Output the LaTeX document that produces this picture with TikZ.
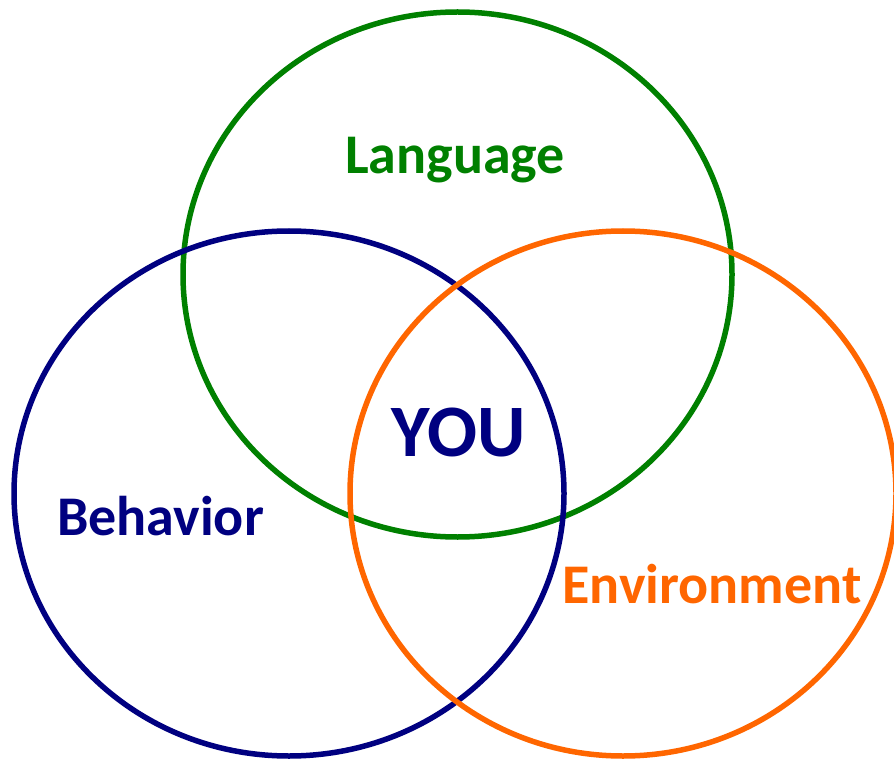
\documentclass[tikz,border=0pt]{standalone}
\usepackage{fontspec}
\setmainfont{Carlito}
\usetikzlibrary{positioning}

\definecolor{langgreen}{RGB}{0,128,0}
\definecolor{behblue}{RGB}{0,0,128}
\definecolor{envorange}{RGB}{255,102,0}

\begin{document}
\begin{tikzpicture}[x=1pt,y=-1pt,line width=5.5pt,
    lbl/.style={font=\bfseries\fontsize{56}{56}\selectfont,inner sep=0pt,anchor=base}]
      \useasboundingbox (0,0) rectangle (894,759);
      \clip (0,0) rectangle (894,759);
      \coordinate (cl) at (457.5,274.5);
      \coordinate (cb) at (289,493.5);
      \coordinate (ce) at (623,493.5);
      \draw[langgreen] (cl) ellipse [x radius=274.5,y radius=262.5];
      \draw[behblue] (cb) ellipse [x radius=275,y radius=262.5];
      \draw[envorange] (ce) ellipse [x radius=273,y radius=262.5];

      \node[lbl,text=langgreen] (lang) at (455,174) {Language};
      \node[lbl,text=behblue] (beh) at (160.5,535) {Behavior};
      \node[lbl,text=envorange] (env) at (712,603) {Environment};
      \node[lbl,text=behblue,font=\bfseries\fontsize{74}{74}\selectfont]
      (you) at (458.5,456) {YOU};
    \end{tikzpicture}
\end{document}
